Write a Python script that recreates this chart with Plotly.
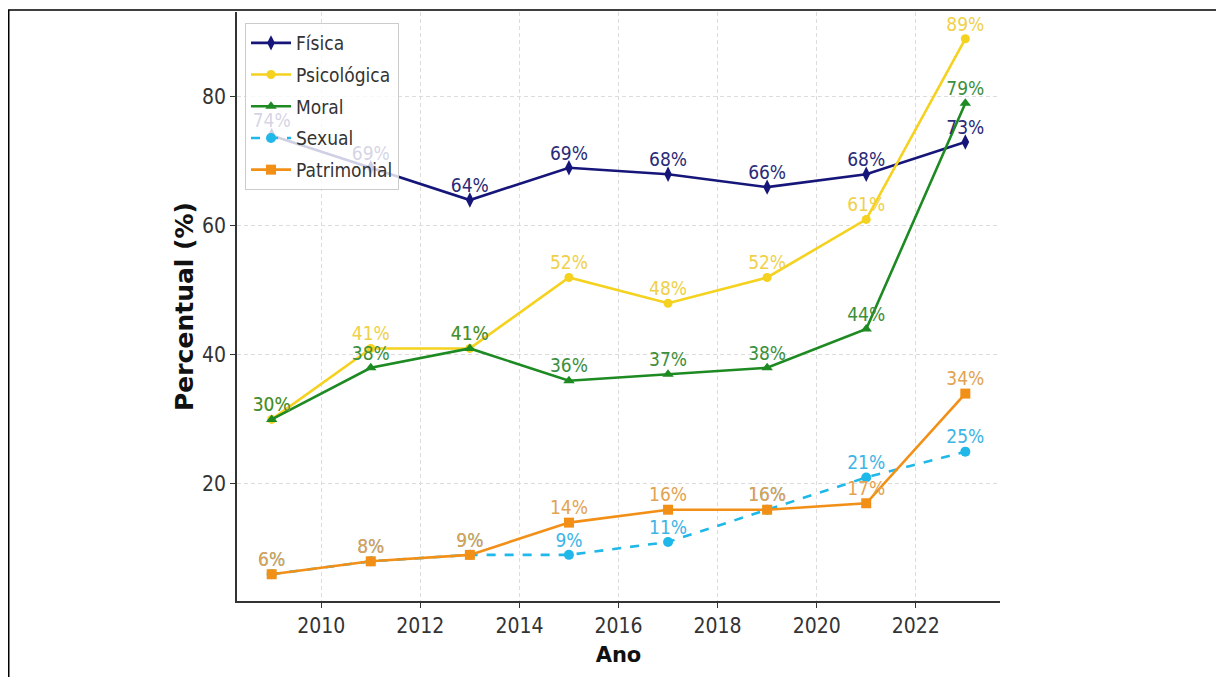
import plotly.graph_objects as go

years = [2009, 2011, 2013, 2015, 2017, 2019, 2021, 2023]
fisica = [74, 69, 64, 69, 68, 66, 68, 73]
psicologica = [30, 41, 41, 52, 48, 52, 61, 89]
moral = [30, 38, 41, 36, 37, 38, 44, 79]
sexual = [6, 8, 9, 9, 11, 16, 21, 25]
patrimonial = [6, 8, 9, 14, 16, 16, 17, 34]

x_ticks = [2010, 2012, 2014, 2016, 2018, 2020, 2022]
y_ticks = [20, 40, 60, 80]

series = [
    ("Física", fisica, "#16167a", "#2a2a78", "diamond-tall", 11, "solid"),
    ("Psicológica", psicologica, "#f5d21f", "#f0d04a", "circle", 9, "solid"),
    ("Moral", moral, "#1d8a22", "#3c8f3c", "triangle-up", 10, "solid"),
    ("Sexual", sexual, "#1fb8e8", "#3cb4e6", "circle", 10, "dash"),
    ("Patrimonial", patrimonial, "#f28f16", "#e3a250", "square", 10, "solid"),
]

FONT = "DejaVu Sans Condensed, DejaVu Sans"

fig = go.Figure()
for name, vals, col, tcol, sym, msize, dash in series:
    fig.add_trace(go.Scatter(
        x=years, y=vals, name=name, mode="lines+markers", legendgroup=name,
        line=dict(color=col, width=2.6, dash=dash),
        marker=dict(symbol=sym, size=msize, color=col),
        hoverinfo="skip",
    ))
for name, vals, col, tcol, sym, msize, dash in series:
    fig.add_trace(go.Scatter(
        x=years, y=vals, name=name, mode="markers+text", showlegend=False,
        marker=dict(size=4, opacity=0),
        text=[f"{v}%" for v in vals], textposition="top center",
        textfont=dict(family=FONT, size=19, color=tcol),
        hoverinfo="skip", cliponaxis=False,
    ))

# page body has an 8px offset; plot area placed accordingly
OFF = 8
W, H = 1224, 677
L, R, T, B = 237 - OFF, W - (1000 - OFF), 12 - OFF, H - (601 - OFF)
pw, ph = W - L - R, H - T - B

def px(sx):
    return (sx - OFF - L) / pw

def py(sy):
    return (H - B - (sy - OFF)) / ph

fig.update_layout(
    width=W, height=H,
    margin=dict(l=L, r=R, t=T, b=B),
    paper_bgcolor="white", plot_bgcolor="white",
    font=dict(family=FONT, color="#333333"),
    showlegend=True,
    legend=dict(
        x=px(245), y=py(23), xanchor="left", yanchor="top",
        bgcolor="rgba(255,255,255,0.8)", bordercolor="#cccccc", borderwidth=1,
        font=dict(family=FONT, size=19, color="#333333"),
        itemwidth=40, tracegroupgap=4,
    ),
    xaxis=dict(
        range=[2008.3, 2023.7], tickvals=x_ticks, ticktext=[str(t) for t in x_ticks],
        showgrid=True, gridcolor="#dcdcdc", griddash="4px,3px", gridwidth=1,
        showline=True, linecolor="#333333", linewidth=1.6,
        ticks="outside", ticklen=5, tickcolor="#333333",
        tickfont=dict(family=FONT, size=21, color="#333333"),
        title=dict(text="<b>Ano</b>", font=dict(family="DejaVu Sans", size=21, color="#111111"), standoff=10),
        zeroline=False,
    ),
    yaxis=dict(
        range=[1.85, 93.15], tickvals=y_ticks, ticktext=[str(t) for t in y_ticks],
        showgrid=True, gridcolor="#dcdcdc", griddash="4px,3px", gridwidth=1,
        showline=True, linecolor="#333333", linewidth=1.6,
        ticks="outside", ticklen=5, tickcolor="#333333",
        tickfont=dict(family=FONT, size=21, color="#333333"),
        title=dict(text="<b>Percentual (%)</b>", font=dict(family="DejaVu Sans", size=25, color="#111111"), standoff=1),
        zeroline=False,
    ),
    shapes=[dict(
        type="rect", xref="paper", yref="paper", layer="above",
        x0=(0.75 - L) / pw, x1=(W + 20 - L) / pw,
        y0=(H - B - (H + 20)) / ph, y1=py(10),
        line=dict(color="black", width=1.5), fillcolor="rgba(0,0,0,0)",
    )],
)

fig.write_html("out.html")
